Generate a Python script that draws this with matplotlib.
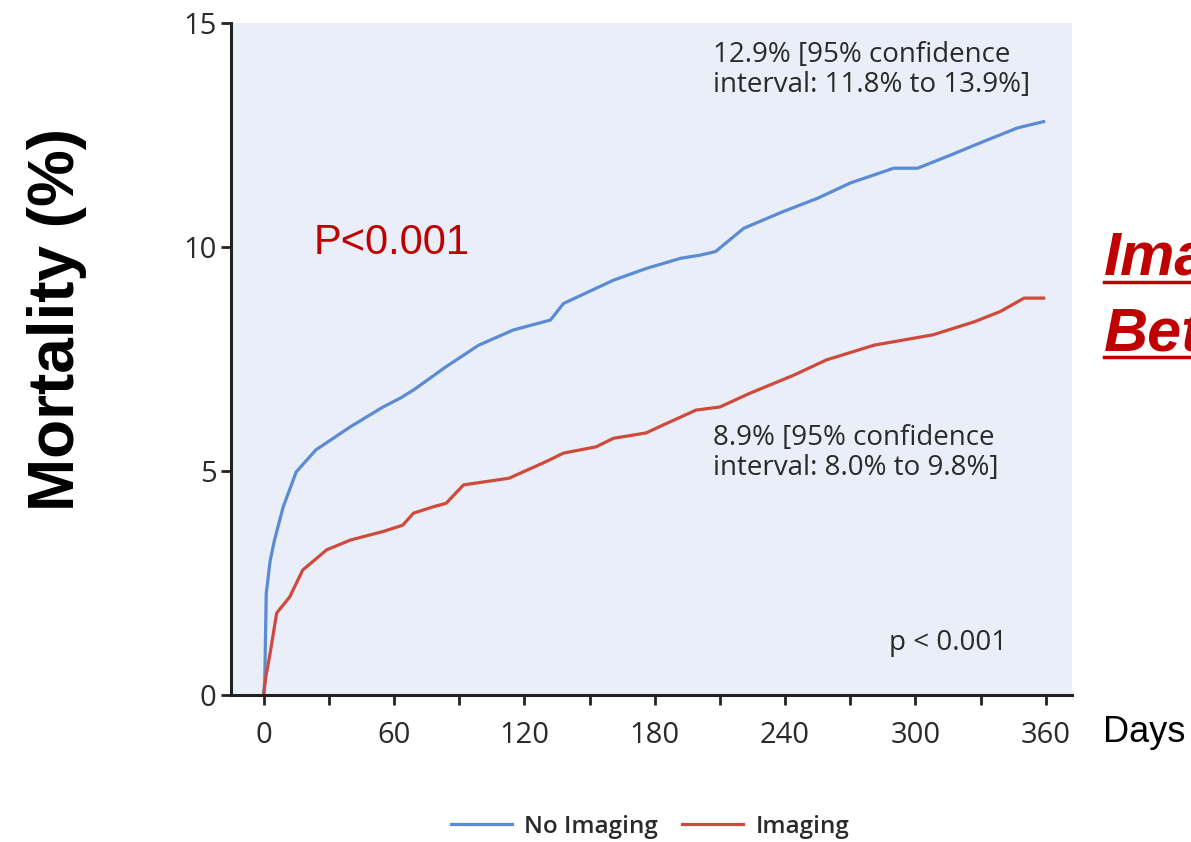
import matplotlib
matplotlib.use('Agg')
import matplotlib.pyplot as plt
from matplotlib.lines import Line2D

# cumulative mortality (%)
days_no = [0, 0.5, 1.2, 3, 5, 9, 15, 24, 40, 55, 63, 69, 84, 99, 115, 132, 138, 161, 176, 192, 201, 208,
           221, 239, 255, 270, 290, 301, 316, 331, 347, 359]
mort_no = [0, 0.3, 2.27, 3.0, 3.46, 4.2, 4.98, 5.47, 5.99, 6.43, 6.63, 6.81, 7.33, 7.81, 8.15, 8.37, 8.74, 9.26,
           9.52, 9.75, 9.82, 9.9, 10.42, 10.79, 11.09, 11.43, 11.76, 11.76, 12.05, 12.35, 12.66, 12.8]

days_im = [0, 1, 3, 6, 12, 18, 29, 40, 55, 64, 69, 78, 84, 92, 113, 130, 138, 153, 161, 176, 184, 199,
           210, 224, 244, 259, 281, 308, 327, 339, 350, 359]
mort_im = [0, 0.4, 0.94, 1.83, 2.19, 2.79, 3.24, 3.46, 3.65, 3.79, 4.06, 4.2, 4.28, 4.69, 4.84, 5.21, 5.40,
           5.54, 5.73, 5.85, 6.03, 6.36, 6.43, 6.74, 7.14, 7.48, 7.81, 8.04, 8.33, 8.56, 8.86, 8.86]

x_ticks = [0, 60, 120, 180, 240, 300, 360]
y_ticks = [0, 5, 10, 15]

blue = '#5a8bd3'
red = '#cf4a3c'
txt = '#2a2a2a'
tick_font = 'Open Sans'

fig = plt.figure(figsize=(11.91, 8.42), dpi=100)
ax = fig.add_axes([0.194, 0.1746, 0.706, 0.798])
ax.set_facecolor('#e9eef8')

ax.plot(days_no, mort_no, color=blue, lw=2.3, label='No Imaging')
ax.plot(days_im, mort_im, color=red, lw=2.3, label='Imaging')

ax.set_xlim(-15, 372)
ax.set_ylim(0, 15)
ax.set_xticks(x_ticks)
ax.set_xticks(range(30, 360, 60), minor=True)
ax.set_yticks(y_ticks)
for s in ['top', 'right']:
    ax.spines[s].set_visible(False)
for s in ['left', 'bottom']:
    ax.spines[s].set_linewidth(2.2)
    ax.spines[s].set_color('#222222')
ax.tick_params(which='both', direction='out', length=7, width=2, color='#222222')
ax.tick_params(axis='x', pad=12)
for lab in ax.get_xticklabels() + ax.get_yticklabels():
    lab.set_fontfamily(tick_font)
    lab.set_fontsize(21)
    lab.set_fontweight('medium')
    lab.set_color(txt)

ax.text(207, 14.6, '12.9% [95% confidence\ninterval: 11.8% to 13.9%]', fontsize=20, family=tick_font,
        weight='medium', color=txt, va='top', ha='left', linespacing=1.1)
ax.text(207, 6.05, '8.9% [95% confidence\ninterval: 8.0% to 9.8%]', fontsize=20, family=tick_font,
        weight='medium', color=txt, va='top', ha='left', linespacing=1.1)
ax.text(288, 1.15, 'p < 0.001', fontsize=20, family=tick_font, weight='medium', color=txt,
        va='center', ha='left')
ax.text(23, 10.1, 'P<0.001', fontsize=30, family='Liberation Sans', color='#c00000', va='center', ha='left')

fig.text(0.048, 0.62, 'Mortality (%)', rotation=90, fontsize=46, fontweight='bold',
         family='Liberation Sans', color='black', ha='center', va='center')
fig.text(0.926, 0.13, 'Days', fontsize=26, family='Liberation Sans', color='black', ha='left', va='center')

# right-hand red heading, cut by the figure edge as in the source slide
fig.text(0.927, 1 - 275 / 842, 'Imaging', fontsize=44, fontweight='bold', style='italic',
         family='Liberation Sans', color='#c00000', ha='left', va='baseline')
fig.text(0.927, 1 - 350 / 842, 'Better', fontsize=44, fontweight='bold', style='italic',
         family='Liberation Sans', color='#c00000', ha='left', va='baseline')
for yy in [282, 357]:
    fig.add_artist(Line2D([0.927, 1.0], [1 - yy / 842, 1 - yy / 842], color='#c00000', lw=2.5,
                          transform=fig.transFigure))

leg = fig.legend(loc='center', bbox_to_anchor=(0.546, 0.018), ncol=2, frameon=False,
                 prop={'family': tick_font, 'size': 17.5, 'weight': 'semibold'},
                 handlelength=2.5, columnspacing=1.0, handletextpad=0.5)
for t in leg.get_texts():
    t.set_color(txt)

fig.savefig('out.png', dpi=100)
